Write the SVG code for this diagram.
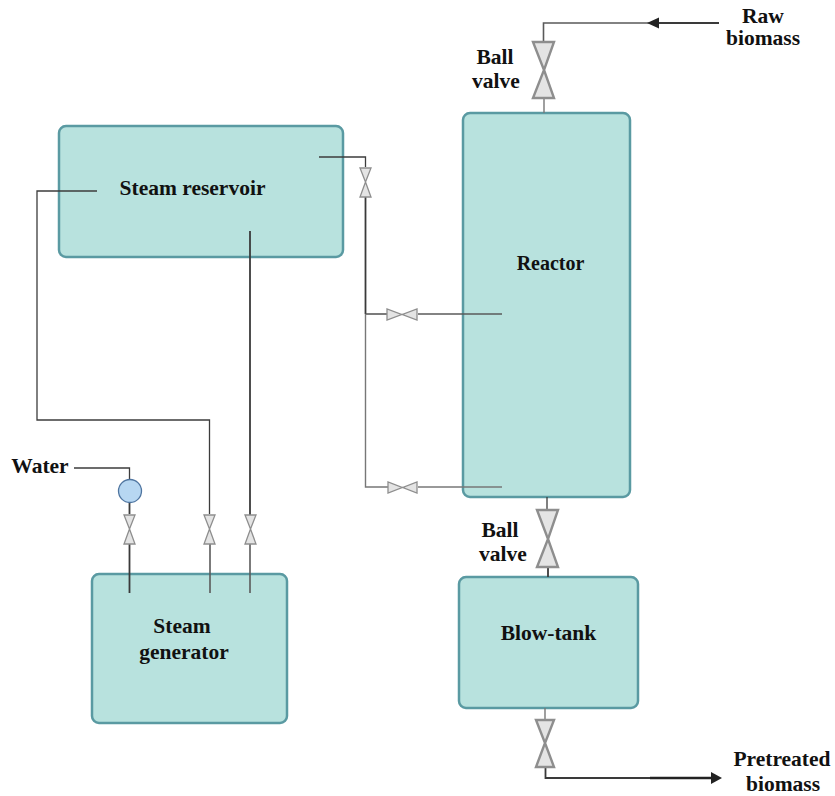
<svg xmlns="http://www.w3.org/2000/svg" width="835" height="796" viewBox="0 0 835 796">
<defs>
<style>
.box{fill:#b8e2de;stroke:#5a9aa2;stroke-width:2.5}
.l{fill:none;stroke:#3c3c3c;stroke-width:1.3}
.lm{fill:none;stroke:#5a5a5a;stroke-width:1.6}
.lg{fill:none;stroke:#777;stroke-width:1.4}
.ld{fill:none;stroke:#3a3a3a;stroke-width:1.8}
.v{fill:#e4e4e4;stroke:#8e8e8e;stroke-width:1.3;stroke-linejoin:miter}
.V{fill:#e4e4e4;stroke:#8e8e8e;stroke-width:2.4}
text{font-family:"Liberation Serif","Times New Roman",serif;font-weight:bold;font-size:21.5px;fill:#111;text-anchor:middle}
</style>
</defs>
<rect width="835" height="796" fill="#fff"/>
<g id="steam-reservoir"><rect class="box" x="59" y="126" width="284" height="131" rx="7"/><text x="192.500" y="195">Steam reservoir</text></g>
<g id="reactor"><rect class="box" x="463" y="113" width="167" height="384" rx="7"/><text x="550.500" y="270" style="font-size:20px">Reactor</text></g>
<g id="steam-generator"><rect class="box" x="92" y="574" width="195" height="149" rx="7"/><text x="182" y="633">Steam</text><text x="184" y="659">generator</text></g>
<g id="blow-tank"><rect class="box" x="459" y="577" width="179" height="131" rx="7"/><text x="548.500" y="640">Blow-tank</text></g>
<g id="connectors">
<path class="lm" d="M543.500 41V23H650"/>
<path class="ld" d="M650 23H719" style="stroke-width:2"/>
<path d="M647 23L659 17.500V28.500Z" fill="#222"/>
<path class="lg" d="M544 98V113"/>
<path class="l" d="M319 157H365.500V167"/>
<path class="ld" d="M365.500 197V314"/>
<path class="lm" d="M365.500 314H387"/>
<path class="lg" d="M365.500 314V487H388"/>
<path class="lm" d="M418 314H502"/>
<path class="lg" d="M418 487H502"/>
<path class="l" d="M97 191H37V420H209.500V514"/>
<path class="ld" d="M250 231V515"/>
<path class="l" d="M74 468H129.500V481"/>
<path class="ld" d="M129.500 503V514M129.500 544V593"/>
<path class="lm" d="M210 544V593"/>
<path class="lm" d="M250 544V593"/>
<path class="l" d="M547 497V509"/>
<path class="ld" d="M548 567V577"/>
<path class="lg" d="M545 708V719"/>
<path class="ld" d="M545.500 768V778H650"/>
<path d="M650 778H712" stroke="#222" stroke-width="2.500" fill="none"/>
<path d="M722 778L711 772V784Z" fill="#222"/>
</g>
<g id="valve-top"><path class="V" d="M533 42H554L544 70L554 98H533L544 70Z"/><text x="495" y="64">Ball</text><text x="496" y="88">valve</text></g>
<g id="valve-res"><path class="v" d="M360 168H371L365.500 182L371 197H360L365.500 182Z"/></g>
<g id="valve-mid"><path class="v" d="M387 309V320L402 314.500L417 320V309L402 314.500Z"/></g>
<g id="valve-low"><path class="v" d="M388 482V493L402.500 487.500L417 493V482L402.500 487.500Z"/></g>
<g id="valve-water"><path class="v" d="M124 515H135L129.500 529L135 544H124L129.500 529Z"/></g>
<g id="valve-g2"><path class="v" d="M204 515H215L209.500 529L215 544H204L209.500 529Z"/></g>
<g id="valve-g3"><path class="v" d="M245 515H256L250.500 529L256 544H245L250.500 529Z"/></g>
<g id="valve-bottom-reactor"><path class="V" d="M537 510H558L548 539L558 567H537L548 539Z"/><text x="500" y="537">Ball</text><text x="503" y="561">valve</text></g>
<g id="valve-blow"><path class="V" d="M536 720H554L545 743L554 767H536L545 743Z"/></g>
<g id="pump"><circle cx="130" cy="491" r="11.500" fill="#b7d7f2" stroke="#4f75a0" stroke-width="1.300"/></g>
<g id="labels">
<text x="40" y="473">Water</text>
<text x="763" y="23">Raw</text>
<text x="763" y="45">biomass</text>
<text x="782" y="766">Pretreated</text>
<text x="783" y="790.500">biomass</text>
</g>
</svg>
